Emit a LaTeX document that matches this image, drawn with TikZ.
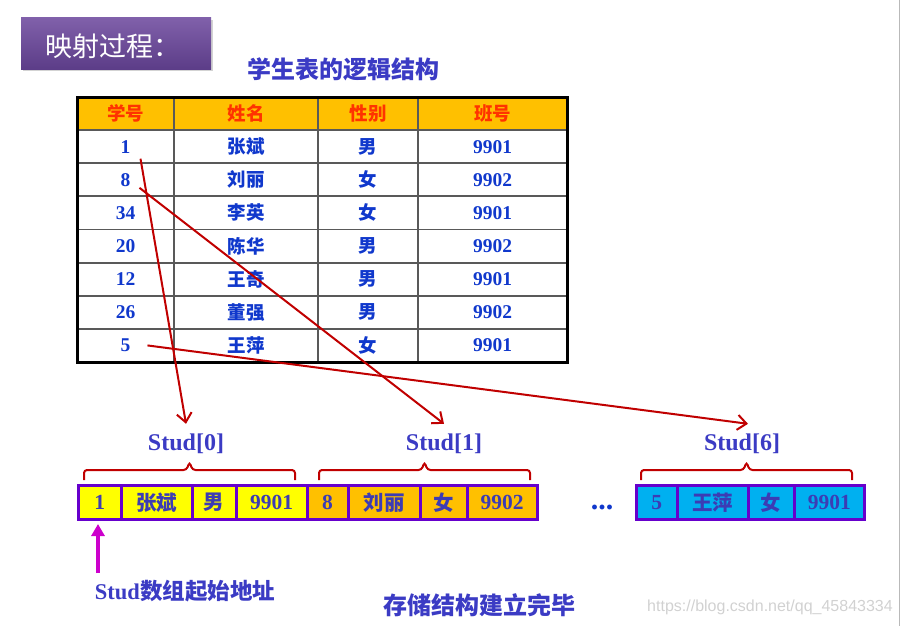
\documentclass[tikz,border=0pt]{standalone}
\usepackage{fontspec}
\setmainfont{Liberation Serif}
\newfontfamily\cjk{Noto Sans CJK SC}
\newfontfamily\wmfont{Liberation Sans}
\usetikzlibrary{arrows.meta,shadows,positioning}

\definecolor{hdrfill}{HTML}{FFC000}
\definecolor{hdrtext}{HTML}{FF3300}
\definecolor{tblue}{HTML}{1038CC}
\definecolor{sblue}{HTML}{3B3BC4}
\definecolor{cblue}{HTML}{3C3CB4}
\definecolor{arrred}{HTML}{C00000}
\definecolor{cellline}{HTML}{6600CC}
\definecolor{recA}{HTML}{FFFF00}
\definecolor{recB}{HTML}{FFC000}
\definecolor{recC}{HTML}{00B0F0}
\definecolor{ttltop}{HTML}{8060AA}
\definecolor{ttlbot}{HTML}{5C3D88}
\definecolor{ptrcol}{HTML}{CC00CC}

\begin{document}
\begin{tikzpicture}[x=1pt, y=-1pt,
        num/.style={font=\bfseries\fontsize{19.5}{19.5}\selectfont, text=tblue},
        han/.style={font=\bfseries\cjk\fontsize{18.5}{18.5}\selectfont, text=tblue},
        hdr/.style={font=\bfseries\cjk\fontsize{18.5}{18.5}\selectfont, text=hdrtext},
        tgrid/.style={draw=black!65, line width=1.8pt},
        map/.style={draw=arrred, line width=2pt, -{Straight Barb[length=9pt,width=15pt,line width=2pt]}},
        studlbl/.style={font=\bfseries\fontsize{24}{24}\selectfont, text=sblue, inner sep=0pt, text height=17pt, text depth=5pt},
        cell/.style={draw=cellline, line width=3pt, minimum height=34pt, inner sep=0pt, text=cblue},
        cnum/.style={cell, font=\bfseries\fontsize{21.5}{21.5}\selectfont},
        chan/.style={cell, font=\bfseries\cjk\fontsize{20.5}{20.5}\selectfont},
        bracket/.style={draw=arrred, line width=2pt, rounded corners=3pt},
        caption/.style={font=\bfseries\cjk\fontsize{24}{24}\selectfont, text=sblue}
    ]
    \useasboundingbox (0,0) rectangle (901,626);
    \draw[gray!55, line width=1.5pt] (899.5,0) -- (899.5,626);

    % title
    \node[top color=ttltop, bottom color=ttlbot, minimum width=190pt, minimum height=51pt,
          drop shadow={opacity=0.35}] (title) at (116,43.5) {};
    \node[font=\cjk\fontsize{27}{27}\selectfont, text=white] (ttltext) at (113,46) {映射过程：};
    \node[caption] (logic) at (343.5,69) {学生表的逻辑结构};

    % table
    \fill[hdrfill] (77,97) rectangle (567,130);
    \foreach \i in {1,...,7}
        \draw[tgrid] (77,{97+33.125*\i}) -- (567,{97+33.125*\i});
    \foreach \x in {174,318,418}
        \draw[tgrid] (\x,97) -- (\x,362);
    \draw[line width=3pt] (77,97) rectangle (567,362);

    \node[hdr] (h1) at (125.5,113.6) {学号};
    \node[hdr] (h2) at (246,113.6) {姓名};
    \node[hdr] (h3) at (368,113.6) {性别};
    \node[hdr] (h4) at (492.5,113.6) {班号};
    \foreach \id/\nm/\sx/\cl [count=\r] in {1/张斌/男/9901, 8/刘丽/女/9902, 34/李英/女/9901,
            20/陈华/男/9902, 12/王奇/男/9901, 26/董强/男/9902, 5/王萍/女/9901} {
        \node[num] (id\r) at (125.5,{97+33.125*(\r+0.5)}) {\id};
        \node[han] (nm\r) at (246,{97+33.125*(\r+0.5)}) {\nm};
        \node[han] (sx\r) at (368,{97+33.125*(\r+0.5)}) {\sx};
        \node[num] (cl\r) at (492.5,{97+33.125*(\r+0.5)}) {\cl};
    }

    % array labels
    \node[studlbl, anchor=base] (s0) at (186,450) {Stud[0]};
    \node[studlbl, anchor=base] (s1) at (444,450) {Stud[1]};
    \node[studlbl, anchor=base] (s6) at (742,450) {Stud[6]};

    \foreach \l/\r [evaluate=\l as \m using (\l+\r)/2] in {84/295, 319/530, 641/852}
        \draw[bracket] (\l,480) -- (\l,470) -- (\m-3,470) -- (\m,462) -- (\m+3,470) -- (\r,470) -- (\r,480);

    % storage cells
    \node[cnum, fill=recA, minimum width=42.5pt] (a1) at (99.75,502.5) {1};
    \node[chan, fill=recA, minimum width=71pt] (a2) at (156.5,502.5) {张斌};
    \node[chan, fill=recA, minimum width=44pt] (a3) at (214,502.5) {男};
    \node[cnum, fill=recA, minimum width=71pt] (a4) at (271.5,502.5) {9901};
    \node[cnum, fill=recB, minimum width=41pt] (b1) at (327.5,502.5) {8};
    \node[chan, fill=recB, minimum width=72pt] (b2) at (384,502.5) {刘丽};
    \node[chan, fill=recB, minimum width=47pt] (b3) at (443.5,502.5) {女};
    \node[cnum, fill=recB, minimum width=70pt] (b4) at (502,502.5) {9902};
    \node[font=\bfseries\fontsize{30}{30}\selectfont, text=tblue] (dots) at (602,507) {...};
    \node[cnum, fill=recC, minimum width=40.5pt] (c1) at (656.75,502.5) {5};
    \node[chan, fill=recC, minimum width=71pt] (c2) at (712.5,502.5) {王萍};
    \node[chan, fill=recC, minimum width=46pt] (c3) at (771,502.5) {女};
    \node[cnum, fill=recC, minimum width=70.5pt] (c4) at (829.25,502.5) {9901};

    % mapping arrows
    \draw[map] ([shift={(15,12)}]id1.center) -- ([yshift=9pt]s0.north);
    \draw[map] ([shift={(14,8)}]id2.center) -- ([yshift=9pt]s1.north);
    \draw[map] ([shift={(22,0)}]id7.center) -- ([xshift=6pt,yshift=9pt]s6.north);

    % start address
    \coordinate (ptr) at (98,573);
    \draw[draw=ptrcol, line width=4pt, -{Triangle[length=12pt,width=13pt]}, shorten >=3pt] (ptr) -- (ptr |- a1.south);
    \node[font=\bfseries\fontsize{22.5}{22.5}\selectfont, text=sblue] (addr) at (185,591) {Stud{\cjk 数组起始地址}};
    \node[caption] (done) at (479.5,605) {存储结构建立完毕};

    \node[font=\wmfont\fontsize{16}{16}\selectfont, text=black!18] (wm) at (770,607) {https://blog.csdn.net/qq\_45843334};
\end{tikzpicture}
\end{document}
